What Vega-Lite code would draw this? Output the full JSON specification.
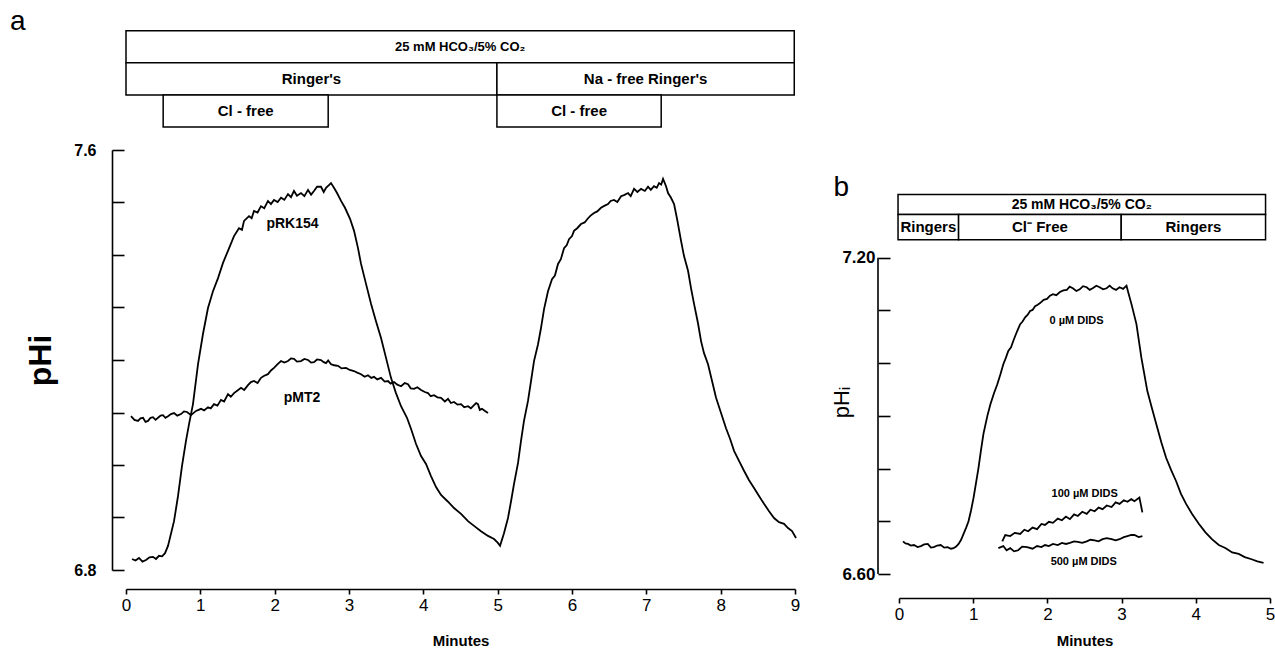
{
  "$schema": "https://vega.github.io/schema/vega-lite/v6.json",
  "background": "white",
  "padding": {"left": 9, "top": 7, "right": 2, "bottom": 2},
  "config": {
    "view": {"stroke": null},
    "font": "Liberation Sans",
    "axis": {"grid": false, "domainColor": "black", "tickColor": "black", "labelColor": "black", "titleColor": "black", "domainWidth": 1.6, "tickWidth": 1.6, "labelFlush": false, "labelOverlap": false, "labelFont": "Liberation Sans", "titleFont": "Liberation Sans"}
  },
  "datasets": {
    "curvesA": [
      {"series":"pRK154","t":0.081,"ph":6.821},{"series":"pRK154","t":0.128,"ph":6.818},{"series":"pRK154","t":0.175,"ph":6.823},{"series":"pRK154","t":0.222,"ph":6.816},{"series":"pRK154","t":0.269,"ph":6.819},{"series":"pRK154","t":0.316,"ph":6.824},{"series":"pRK154","t":0.363,"ph":6.825},{"series":"pRK154","t":0.404,"ph":6.821},{"series":"pRK154","t":0.444,"ph":6.827},{"series":"pRK154","t":0.485,"ph":6.826},{"series":"pRK154","t":0.525,"ph":6.832},{"series":"pRK154","t":0.565,"ph":6.846},{"series":"pRK154","t":0.605,"ph":6.869},{"series":"pRK154","t":0.646,"ph":6.893},{"series":"pRK154","t":0.700,"ph":6.941},{"series":"pRK154","t":0.753,"ph":6.998},{"series":"pRK154","t":0.807,"ph":7.046},{"series":"pRK154","t":0.848,"ph":7.078},{"series":"pRK154","t":0.901,"ph":7.116},{"series":"pRK154","t":0.969,"ph":7.192},{"series":"pRK154","t":1.036,"ph":7.250},{"series":"pRK154","t":1.103,"ph":7.299},{"series":"pRK154","t":1.170,"ph":7.331},{"series":"pRK154","t":1.238,"ph":7.356},{"series":"pRK154","t":1.305,"ph":7.385},{"series":"pRK154","t":1.372,"ph":7.408},{"series":"pRK154","t":1.453,"ph":7.436},{"series":"pRK154","t":1.520,"ph":7.451},{"series":"pRK154","t":1.560,"ph":7.448},{"series":"pRK154","t":1.588,"ph":7.465},{"series":"pRK154","t":1.655,"ph":7.474},{"series":"pRK154","t":1.690,"ph":7.470},{"series":"pRK154","t":1.722,"ph":7.484},{"series":"pRK154","t":1.770,"ph":7.481},{"series":"pRK154","t":1.816,"ph":7.493},{"series":"pRK154","t":1.860,"ph":7.489},{"series":"pRK154","t":1.910,"ph":7.503},{"series":"pRK154","t":1.950,"ph":7.497},{"series":"pRK154","t":1.991,"ph":7.505},{"series":"pRK154","t":2.040,"ph":7.501},{"series":"pRK154","t":2.085,"ph":7.509},{"series":"pRK154","t":2.130,"ph":7.505},{"series":"pRK154","t":2.179,"ph":7.516},{"series":"pRK154","t":2.220,"ph":7.510},{"series":"pRK154","t":2.260,"ph":7.522},{"series":"pRK154","t":2.300,"ph":7.513},{"series":"pRK154","t":2.354,"ph":7.518},{"series":"pRK154","t":2.400,"ph":7.512},{"series":"pRK154","t":2.449,"ph":7.524},{"series":"pRK154","t":2.490,"ph":7.515},{"series":"pRK154","t":2.529,"ph":7.522},{"series":"pRK154","t":2.570,"ph":7.530},{"series":"pRK154","t":2.623,"ph":7.530},{"series":"pRK154","t":2.660,"ph":7.520},{"series":"pRK154","t":2.691,"ph":7.528},{"series":"pRK154","t":2.730,"ph":7.533},{"series":"pRK154","t":2.758,"ph":7.537},{"series":"pRK154","t":2.798,"ph":7.528},{"series":"pRK154","t":2.839,"ph":7.518},{"series":"pRK154","t":2.893,"ph":7.503},{"series":"pRK154","t":2.946,"ph":7.490},{"series":"pRK154","t":3.014,"ph":7.469},{"series":"pRK154","t":3.068,"ph":7.446},{"series":"pRK154","t":3.121,"ph":7.413},{"series":"pRK154","t":3.162,"ph":7.383},{"series":"pRK154","t":3.229,"ph":7.345},{"series":"pRK154","t":3.296,"ph":7.307},{"series":"pRK154","t":3.363,"ph":7.274},{"series":"pRK154","t":3.431,"ph":7.242},{"series":"pRK154","t":3.498,"ph":7.204},{"series":"pRK154","t":3.565,"ph":7.166},{"series":"pRK154","t":3.632,"ph":7.137},{"series":"pRK154","t":3.700,"ph":7.112},{"series":"pRK154","t":3.780,"ph":7.090},{"series":"pRK154","t":3.834,"ph":7.069},{"series":"pRK154","t":3.902,"ph":7.040},{"series":"pRK154","t":3.969,"ph":7.017},{"series":"pRK154","t":4.036,"ph":7.002},{"series":"pRK154","t":4.103,"ph":6.979},{"series":"pRK154","t":4.171,"ph":6.958},{"series":"pRK154","t":4.238,"ph":6.943},{"series":"pRK154","t":4.332,"ph":6.930},{"series":"pRK154","t":4.413,"ph":6.918},{"series":"pRK154","t":4.507,"ph":6.907},{"series":"pRK154","t":4.601,"ph":6.893},{"series":"pRK154","t":4.682,"ph":6.884},{"series":"pRK154","t":4.776,"ph":6.874},{"series":"pRK154","t":4.870,"ph":6.865},{"series":"pRK154","t":4.951,"ph":6.859},{"series":"pRK154","t":5.000,"ph":6.852},{"series":"pRK154","t":5.032,"ph":6.846},{"series":"pRK154","t":5.085,"ph":6.870},{"series":"pRK154","t":5.139,"ph":6.899},{"series":"pRK154","t":5.180,"ph":6.931},{"series":"pRK154","t":5.220,"ph":6.964},{"series":"pRK154","t":5.274,"ph":7.004},{"series":"pRK154","t":5.314,"ph":7.046},{"series":"pRK154","t":5.354,"ph":7.084},{"series":"pRK154","t":5.408,"ph":7.122},{"series":"pRK154","t":5.449,"ph":7.160},{"series":"pRK154","t":5.489,"ph":7.198},{"series":"pRK154","t":5.543,"ph":7.230},{"series":"pRK154","t":5.583,"ph":7.261},{"series":"pRK154","t":5.624,"ph":7.297},{"series":"pRK154","t":5.677,"ph":7.331},{"series":"pRK154","t":5.731,"ph":7.354},{"series":"pRK154","t":5.770,"ph":7.361},{"series":"pRK154","t":5.812,"ph":7.383},{"series":"pRK154","t":5.850,"ph":7.392},{"series":"pRK154","t":5.893,"ph":7.413},{"series":"pRK154","t":5.930,"ph":7.419},{"series":"pRK154","t":5.960,"ph":7.430},{"series":"pRK154","t":6.000,"ph":7.436},{"series":"pRK154","t":6.027,"ph":7.446},{"series":"pRK154","t":6.070,"ph":7.451},{"series":"pRK154","t":6.121,"ph":7.459},{"series":"pRK154","t":6.170,"ph":7.462},{"series":"pRK154","t":6.216,"ph":7.470},{"series":"pRK154","t":6.250,"ph":7.475},{"series":"pRK154","t":6.296,"ph":7.480},{"series":"pRK154","t":6.340,"ph":7.483},{"series":"pRK154","t":6.390,"ph":7.490},{"series":"pRK154","t":6.440,"ph":7.494},{"series":"pRK154","t":6.485,"ph":7.497},{"series":"pRK154","t":6.520,"ph":7.503},{"series":"pRK154","t":6.565,"ph":7.505},{"series":"pRK154","t":6.610,"ph":7.501},{"series":"pRK154","t":6.660,"ph":7.512},{"series":"pRK154","t":6.700,"ph":7.514},{"series":"pRK154","t":6.754,"ph":7.518},{"series":"pRK154","t":6.790,"ph":7.512},{"series":"pRK154","t":6.835,"ph":7.526},{"series":"pRK154","t":6.880,"ph":7.520},{"series":"pRK154","t":6.929,"ph":7.526},{"series":"pRK154","t":6.980,"ph":7.522},{"series":"pRK154","t":7.023,"ph":7.530},{"series":"pRK154","t":7.060,"ph":7.524},{"series":"pRK154","t":7.103,"ph":7.531},{"series":"pRK154","t":7.140,"ph":7.528},{"series":"pRK154","t":7.171,"ph":7.537},{"series":"pRK154","t":7.200,"ph":7.534},{"series":"pRK154","t":7.225,"ph":7.545},{"series":"pRK154","t":7.265,"ph":7.531},{"series":"pRK154","t":7.292,"ph":7.518},{"series":"pRK154","t":7.332,"ph":7.509},{"series":"pRK154","t":7.373,"ph":7.497},{"series":"pRK154","t":7.413,"ph":7.469},{"series":"pRK154","t":7.467,"ph":7.427},{"series":"pRK154","t":7.507,"ph":7.398},{"series":"pRK154","t":7.561,"ph":7.370},{"series":"pRK154","t":7.601,"ph":7.337},{"series":"pRK154","t":7.642,"ph":7.307},{"series":"pRK154","t":7.695,"ph":7.270},{"series":"pRK154","t":7.736,"ph":7.236},{"series":"pRK154","t":7.776,"ph":7.213},{"series":"pRK154","t":7.830,"ph":7.192},{"series":"pRK154","t":7.884,"ph":7.160},{"series":"pRK154","t":7.938,"ph":7.128},{"series":"pRK154","t":8.005,"ph":7.099},{"series":"pRK154","t":8.072,"ph":7.070},{"series":"pRK154","t":8.126,"ph":7.050},{"series":"pRK154","t":8.180,"ph":7.027},{"series":"pRK154","t":8.247,"ph":7.008},{"series":"pRK154","t":8.314,"ph":6.989},{"series":"pRK154","t":8.382,"ph":6.971},{"series":"pRK154","t":8.449,"ph":6.956},{"series":"pRK154","t":8.516,"ph":6.941},{"series":"pRK154","t":8.583,"ph":6.926},{"series":"pRK154","t":8.651,"ph":6.912},{"series":"pRK154","t":8.718,"ph":6.899},{"series":"pRK154","t":8.785,"ph":6.891},{"series":"pRK154","t":8.853,"ph":6.888},{"series":"pRK154","t":8.906,"ph":6.880},{"series":"pRK154","t":8.960,"ph":6.874},{"series":"pRK154","t":9.014,"ph":6.861},
      {"series":"pMT2","t":0.067,"ph":7.093},{"series":"pMT2","t":0.114,"ph":7.086},{"series":"pMT2","t":0.161,"ph":7.084},{"series":"pMT2","t":0.195,"ph":7.089},{"series":"pMT2","t":0.229,"ph":7.090},{"series":"pMT2","t":0.262,"ph":7.082},{"series":"pMT2","t":0.296,"ph":7.084},{"series":"pMT2","t":0.330,"ph":7.090},{"series":"pMT2","t":0.363,"ph":7.091},{"series":"pMT2","t":0.397,"ph":7.086},{"series":"pMT2","t":0.431,"ph":7.090},{"series":"pMT2","t":0.465,"ph":7.094},{"series":"pMT2","t":0.498,"ph":7.095},{"series":"pMT2","t":0.531,"ph":7.090},{"series":"pMT2","t":0.565,"ph":7.093},{"series":"pMT2","t":0.605,"ph":7.097},{"series":"pMT2","t":0.646,"ph":7.099},{"series":"pMT2","t":0.690,"ph":7.094},{"series":"pMT2","t":0.740,"ph":7.097},{"series":"pMT2","t":0.780,"ph":7.102},{"series":"pMT2","t":0.821,"ph":7.101},{"series":"pMT2","t":0.874,"ph":7.095},{"series":"pMT2","t":0.942,"ph":7.103},{"series":"pMT2","t":1.009,"ph":7.107},{"series":"pMT2","t":1.050,"ph":7.104},{"series":"pMT2","t":1.103,"ph":7.110},{"series":"pMT2","t":1.140,"ph":7.108},{"series":"pMT2","t":1.184,"ph":7.116},{"series":"pMT2","t":1.230,"ph":7.113},{"series":"pMT2","t":1.278,"ph":7.124},{"series":"pMT2","t":1.320,"ph":7.121},{"series":"pMT2","t":1.372,"ph":7.135},{"series":"pMT2","t":1.410,"ph":7.130},{"series":"pMT2","t":1.453,"ph":7.137},{"series":"pMT2","t":1.500,"ph":7.142},{"series":"pMT2","t":1.547,"ph":7.147},{"series":"pMT2","t":1.590,"ph":7.143},{"series":"pMT2","t":1.641,"ph":7.152},{"series":"pMT2","t":1.680,"ph":7.158},{"series":"pMT2","t":1.722,"ph":7.160},{"series":"pMT2","t":1.770,"ph":7.156},{"series":"pMT2","t":1.816,"ph":7.166},{"series":"pMT2","t":1.860,"ph":7.170},{"series":"pMT2","t":1.910,"ph":7.173},{"series":"pMT2","t":1.950,"ph":7.180},{"series":"pMT2","t":1.991,"ph":7.185},{"series":"pMT2","t":2.040,"ph":7.192},{"series":"pMT2","t":2.085,"ph":7.198},{"series":"pMT2","t":2.130,"ph":7.195},{"series":"pMT2","t":2.179,"ph":7.198},{"series":"pMT2","t":2.220,"ph":7.203},{"series":"pMT2","t":2.260,"ph":7.202},{"series":"pMT2","t":2.300,"ph":7.197},{"series":"pMT2","t":2.354,"ph":7.198},{"series":"pMT2","t":2.400,"ph":7.202},{"series":"pMT2","t":2.449,"ph":7.200},{"series":"pMT2","t":2.490,"ph":7.195},{"series":"pMT2","t":2.529,"ph":7.196},{"series":"pMT2","t":2.570,"ph":7.201},{"series":"pMT2","t":2.623,"ph":7.200},{"series":"pMT2","t":2.660,"ph":7.196},{"series":"pMT2","t":2.691,"ph":7.194},{"series":"pMT2","t":2.720,"ph":7.199},{"series":"pMT2","t":2.758,"ph":7.192},{"series":"pMT2","t":2.800,"ph":7.190},{"series":"pMT2","t":2.852,"ph":7.189},{"series":"pMT2","t":2.900,"ph":7.184},{"series":"pMT2","t":2.960,"ph":7.185},{"series":"pMT2","t":3.010,"ph":7.181},{"series":"pMT2","t":3.067,"ph":7.179},{"series":"pMT2","t":3.110,"ph":7.176},{"series":"pMT2","t":3.162,"ph":7.173},{"series":"pMT2","t":3.210,"ph":7.168},{"series":"pMT2","t":3.256,"ph":7.171},{"series":"pMT2","t":3.300,"ph":7.166},{"series":"pMT2","t":3.336,"ph":7.168},{"series":"pMT2","t":3.380,"ph":7.163},{"series":"pMT2","t":3.431,"ph":7.166},{"series":"pMT2","t":3.480,"ph":7.159},{"series":"pMT2","t":3.525,"ph":7.160},{"series":"pMT2","t":3.560,"ph":7.155},{"series":"pMT2","t":3.606,"ph":7.158},{"series":"pMT2","t":3.650,"ph":7.153},{"series":"pMT2","t":3.700,"ph":7.150},{"series":"pMT2","t":3.750,"ph":7.156},{"series":"pMT2","t":3.794,"ph":7.154},{"series":"pMT2","t":3.830,"ph":7.146},{"series":"pMT2","t":3.875,"ph":7.145},{"series":"pMT2","t":3.920,"ph":7.148},{"series":"pMT2","t":3.969,"ph":7.143},{"series":"pMT2","t":4.020,"ph":7.139},{"series":"pMT2","t":4.063,"ph":7.137},{"series":"pMT2","t":4.100,"ph":7.131},{"series":"pMT2","t":4.144,"ph":7.133},{"series":"pMT2","t":4.190,"ph":7.129},{"series":"pMT2","t":4.238,"ph":7.128},{"series":"pMT2","t":4.290,"ph":7.121},{"series":"pMT2","t":4.332,"ph":7.126},{"series":"pMT2","t":4.370,"ph":7.118},{"series":"pMT2","t":4.413,"ph":7.120},{"series":"pMT2","t":4.460,"ph":7.115},{"series":"pMT2","t":4.507,"ph":7.116},{"series":"pMT2","t":4.550,"ph":7.110},{"series":"pMT2","t":4.601,"ph":7.112},{"series":"pMT2","t":4.640,"ph":7.108},{"series":"pMT2","t":4.682,"ph":7.114},{"series":"pMT2","t":4.710,"ph":7.118},{"series":"pMT2","t":4.735,"ph":7.116},{"series":"pMT2","t":4.760,"ph":7.105},{"series":"pMT2","t":4.789,"ph":7.107},{"series":"pMT2","t":4.830,"ph":7.103},{"series":"pMT2","t":4.870,"ph":7.099}
    ],
    "curvesB": [
      {"series":"0","t":0.054,"ph":6.662},{"series":"0","t":0.087,"ph":6.658},{"series":"0","t":0.120,"ph":6.657},{"series":"0","t":0.160,"ph":6.654},{"series":"0","t":0.201,"ph":6.655},{"series":"0","t":0.250,"ph":6.651},{"series":"0","t":0.295,"ph":6.653},{"series":"0","t":0.340,"ph":6.656},{"series":"0","t":0.388,"ph":6.657},{"series":"0","t":0.430,"ph":6.650},{"series":"0","t":0.469,"ph":6.651},{"series":"0","t":0.515,"ph":6.654},{"series":"0","t":0.562,"ph":6.655},{"series":"0","t":0.610,"ph":6.650},{"series":"0","t":0.656,"ph":6.651},{"series":"0","t":0.700,"ph":6.648},{"series":"0","t":0.736,"ph":6.649},{"series":"0","t":0.770,"ph":6.652},{"series":"0","t":0.803,"ph":6.657},{"series":"0","t":0.837,"ph":6.665},{"series":"0","t":0.870,"ph":6.676},{"series":"0","t":0.905,"ph":6.688},{"series":"0","t":0.937,"ph":6.700},{"series":"0","t":0.970,"ph":6.720},{"series":"0","t":1.004,"ph":6.744},{"series":"0","t":1.037,"ph":6.772},{"series":"0","t":1.071,"ph":6.801},{"series":"0","t":1.105,"ph":6.835},{"series":"0","t":1.138,"ph":6.866},{"series":"0","t":1.191,"ph":6.900},{"series":"0","t":1.232,"ph":6.922},{"series":"0","t":1.280,"ph":6.943},{"series":"0","t":1.325,"ph":6.960},{"series":"0","t":1.365,"ph":6.978},{"series":"0","t":1.406,"ph":6.998},{"series":"0","t":1.440,"ph":7.010},{"series":"0","t":1.473,"ph":7.023},{"series":"0","t":1.510,"ph":7.030},{"series":"0","t":1.540,"ph":7.042},{"series":"0","t":1.590,"ph":7.060},{"series":"0","t":1.633,"ph":7.074},{"series":"0","t":1.665,"ph":7.079},{"series":"0","t":1.700,"ph":7.087},{"series":"0","t":1.735,"ph":7.092},{"series":"0","t":1.767,"ph":7.099},{"series":"0","t":1.800,"ph":7.101},{"series":"0","t":1.834,"ph":7.108},{"series":"0","t":1.870,"ph":7.111},{"series":"0","t":1.901,"ph":7.114},{"series":"0","t":1.950,"ph":7.120},{"series":"0","t":1.995,"ph":7.122},{"series":"0","t":2.035,"ph":7.128},{"series":"0","t":2.075,"ph":7.131},{"series":"0","t":2.120,"ph":7.129},{"series":"0","t":2.169,"ph":7.135},{"series":"0","t":2.215,"ph":7.138},{"series":"0","t":2.262,"ph":7.139},{"series":"0","t":2.300,"ph":7.145},{"series":"0","t":2.343,"ph":7.142},{"series":"0","t":2.390,"ph":7.137},{"series":"0","t":2.436,"ph":7.140},{"series":"0","t":2.480,"ph":7.146},{"series":"0","t":2.530,"ph":7.144},{"series":"0","t":2.570,"ph":7.139},{"series":"0","t":2.610,"ph":7.142},{"series":"0","t":2.660,"ph":7.147},{"series":"0","t":2.704,"ph":7.144},{"series":"0","t":2.750,"ph":7.140},{"series":"0","t":2.798,"ph":7.142},{"series":"0","t":2.840,"ph":7.147},{"series":"0","t":2.878,"ph":7.142},{"series":"0","t":2.925,"ph":7.139},{"series":"0","t":2.972,"ph":7.144},{"series":"0","t":3.020,"ph":7.141},{"series":"0","t":3.066,"ph":7.147},{"series":"0","t":3.092,"ph":7.133},{"series":"0","t":3.133,"ph":7.112},{"series":"0","t":3.200,"ph":7.074},{"series":"0","t":3.267,"ph":7.010},{"series":"0","t":3.347,"ph":6.947},{"series":"0","t":3.408,"ph":6.915},{"series":"0","t":3.468,"ph":6.884},{"series":"0","t":3.535,"ph":6.850},{"series":"0","t":3.601,"ph":6.820},{"series":"0","t":3.668,"ph":6.797},{"series":"0","t":3.735,"ph":6.776},{"series":"0","t":3.800,"ph":6.752},{"series":"0","t":3.869,"ph":6.733},{"series":"0","t":3.950,"ph":6.714},{"series":"0","t":4.043,"ph":6.695},{"series":"0","t":4.130,"ph":6.679},{"series":"0","t":4.217,"ph":6.666},{"series":"0","t":4.310,"ph":6.655},{"series":"0","t":4.404,"ph":6.649},{"series":"0","t":4.490,"ph":6.641},{"series":"0","t":4.578,"ph":6.638},{"series":"0","t":4.660,"ph":6.632},{"series":"0","t":4.752,"ph":6.628},{"series":"0","t":4.830,"ph":6.624},{"series":"0","t":4.913,"ph":6.621},
      {"series":"100","t":1.392,"ph":6.662},{"series":"100","t":1.432,"ph":6.674},{"series":"100","t":1.499,"ph":6.672},{"series":"100","t":1.560,"ph":6.678},{"series":"100","t":1.633,"ph":6.676},{"series":"100","t":1.690,"ph":6.684},{"series":"100","t":1.740,"ph":6.681},{"series":"100","t":1.800,"ph":6.688},{"series":"100","t":1.861,"ph":6.685},{"series":"100","t":1.920,"ph":6.695},{"series":"100","t":1.968,"ph":6.693},{"series":"100","t":2.020,"ph":6.699},{"series":"100","t":2.075,"ph":6.697},{"series":"100","t":2.140,"ph":6.705},{"series":"100","t":2.195,"ph":6.702},{"series":"100","t":2.250,"ph":6.709},{"series":"100","t":2.303,"ph":6.704},{"series":"100","t":2.360,"ph":6.713},{"series":"100","t":2.410,"ph":6.710},{"series":"100","t":2.470,"ph":6.718},{"series":"100","t":2.530,"ph":6.714},{"series":"100","t":2.580,"ph":6.722},{"series":"100","t":2.637,"ph":6.719},{"series":"100","t":2.690,"ph":6.726},{"series":"100","t":2.744,"ph":6.723},{"series":"100","t":2.800,"ph":6.730},{"series":"100","t":2.865,"ph":6.727},{"series":"100","t":2.920,"ph":6.736},{"series":"100","t":2.972,"ph":6.733},{"series":"100","t":3.030,"ph":6.740},{"series":"100","t":3.079,"ph":6.737},{"series":"100","t":3.130,"ph":6.742},{"series":"100","t":3.173,"ph":6.738},{"series":"100","t":3.240,"ph":6.745},{"series":"100","t":3.280,"ph":6.717},
      {"series":"500","t":1.339,"ph":6.649},{"series":"500","t":1.406,"ph":6.653},{"series":"500","t":1.450,"ph":6.645},{"series":"500","t":1.499,"ph":6.649},{"series":"500","t":1.550,"ph":6.643},{"series":"500","t":1.606,"ph":6.645},{"series":"500","t":1.660,"ph":6.652},{"series":"500","t":1.727,"ph":6.651},{"series":"500","t":1.800,"ph":6.648},{"series":"500","t":1.861,"ph":6.653},{"series":"500","t":1.920,"ph":6.651},{"series":"500","t":1.968,"ph":6.655},{"series":"500","t":2.020,"ph":6.653},{"series":"500","t":2.075,"ph":6.657},{"series":"500","t":2.140,"ph":6.655},{"series":"500","t":2.195,"ph":6.659},{"series":"500","t":2.250,"ph":6.657},{"series":"500","t":2.303,"ph":6.659},{"series":"500","t":2.360,"ph":6.662},{"series":"500","t":2.410,"ph":6.661},{"series":"500","t":2.470,"ph":6.659},{"series":"500","t":2.530,"ph":6.662},{"series":"500","t":2.580,"ph":6.665},{"series":"500","t":2.637,"ph":6.664},{"series":"500","t":2.690,"ph":6.662},{"series":"500","t":2.744,"ph":6.666},{"series":"500","t":2.800,"ph":6.668},{"series":"500","t":2.865,"ph":6.666},{"series":"500","t":2.920,"ph":6.664},{"series":"500","t":2.972,"ph":6.666},{"series":"500","t":3.030,"ph":6.670},{"series":"500","t":3.079,"ph":6.672},{"series":"500","t":3.130,"ph":6.674},{"series":"500","t":3.173,"ph":6.674},{"series":"500","t":3.230,"ph":6.670},{"series":"500","t":3.280,"ph":6.672}
    ],
    "boxesA": [
      {"row":1,"x0":0,"x1":8.99,"top":7.827,"bottom":7.766,"xm":4.495,"ym":7.7965,"label":"25 mM HCO₃/5% CO₂"},
      {"row":2,"x0":0,"x1":4.99,"top":7.766,"bottom":7.705,"xm":2.495,"ym":7.7355,"label":"Ringer's"},
      {"row":2,"x0":4.99,"x1":8.99,"top":7.766,"bottom":7.705,"xm":6.99,"ym":7.7355,"label":"Na - free Ringer's"},
      {"row":3,"x0":0.5,"x1":2.72,"top":7.705,"bottom":7.644,"xm":1.61,"ym":7.6745,"label":"Cl - free"},
      {"row":3,"x0":4.99,"x1":7.2,"top":7.705,"bottom":7.644,"xm":6.095,"ym":7.6745,"label":"Cl - free"}
    ],
    "boxesB": [
      {"row":1,"x0":-0.013,"x1":4.94,"top":7.320,"bottom":7.282,"xm":2.4635,"ym":7.301,"label":"25 mM HCO₃/5% CO₂"},
      {"row":2,"x0":-0.013,"x1":0.803,"top":7.282,"bottom":7.234,"xm":0.395,"ym":7.258,"label":"Ringers"},
      {"row":2,"x0":0.803,"x1":2.995,"top":7.282,"bottom":7.234,"xm":1.899,"ym":7.258,"label":"Cl⁻  Free"},
      {"row":2,"x0":2.995,"x1":4.94,"top":7.282,"bottom":7.234,"xm":3.9675,"ym":7.258,"label":"Ringers"}
    ],
    "labelsA": [
      {"t":2.240,"ph":7.460,"label":"pRK154"},
      {"t":2.368,"ph":7.128,"label":"pMT2"}
    ],
    "labelsB": [
      {"t":2.392,"ph":7.080,"label":"0 µM DIDS"},
      {"t":2.503,"ph":6.752,"label":"100 µM DIDS"},
      {"t":2.490,"ph":6.623,"label":"500 µM DIDS"}
    ],
    "letterA": [{"t":-1.561,"ph":7.8705,"label":"a"}],
    "letterB": [{"t":-0.8835,"ph":7.3588,"label":"b"}],
    "axisB": [{"t":-0.283,"lo":6.6,"hi":7.2}]
  },
  "bounds": "flush",
  "spacing": 104,
  "hconcat": [
    {
      "width": 669,
      "height": 420,
      "layer": [
        {
          "data": {"name": "curvesA"},
          "mark": {"type": "line", "color": "black", "strokeWidth": 1.8},
          "encoding": {
            "x": {"field": "t", "type": "quantitative", "scale": {"domain": [0, 9], "nice": false, "zero": false},
                  "axis": {"values": [0,1,2,3,4,5,6,7,8,9], "format": "d", "offset": 19, "tickSize": 5, "labelPadding": 3, "labelFontSize": 17, "labelFontWeight": "normal", "title": "Minutes", "titleFontSize": 15, "titleFontWeight": "bold", "titlePadding": 20}},
            "y": {"field": "ph", "type": "quantitative", "scale": {"domain": [6.8, 7.6], "nice": false, "zero": false},
                  "axis": {"values": [6.8,6.9,7.0,7.1,7.2,7.3,7.4,7.5,7.6], "offset": 14, "tickSize": -12, "labelPadding": 28, "labelFontSize": 16, "labelFontWeight": "bold", "labelExpr": "abs(datum.value - 7.6) < 0.001 || abs(datum.value - 6.8) < 0.001 ? format(datum.value, '.1f') : ''", "title": "pHi", "titleFontSize": 32, "titleFontWeight": "bold", "titlePadding": 16}},
            "detail": {"field": "series", "type": "nominal"}
          }
        },
        {
          "data": {"name": "boxesA"},
          "mark": {"type": "rect", "fill": "white", "stroke": "black", "strokeWidth": 1.5},
          "encoding": {
            "x": {"field": "x0", "type": "quantitative", "scale": {"domain": [0, 9], "nice": false, "zero": false}},
            "x2": {"field": "x1"},
            "y": {"field": "top", "type": "quantitative", "scale": {"domain": [6.8, 7.6], "nice": false, "zero": false}},
            "y2": {"field": "bottom"}
          }
        },
        {
          "data": {"name": "boxesA"},
          "transform": [{"filter": "datum.row == 1"}],
          "mark": {"type": "text", "font": "Liberation Sans", "fontWeight": "bold", "fontSize": 13, "color": "black", "align": "center", "baseline": "middle"},
          "encoding": {
            "x": {"field": "xm", "type": "quantitative", "scale": {"domain": [0, 9], "nice": false, "zero": false}},
            "y": {"field": "ym", "type": "quantitative", "scale": {"domain": [6.8, 7.6], "nice": false, "zero": false}},
            "text": {"field": "label"}
          }
        },
        {
          "data": {"name": "boxesA"},
          "transform": [{"filter": "datum.row != 1"}],
          "mark": {"type": "text", "font": "Liberation Sans", "fontWeight": "bold", "fontSize": 15, "color": "black", "align": "center", "baseline": "middle"},
          "encoding": {
            "x": {"field": "xm", "type": "quantitative", "scale": {"domain": [0, 9], "nice": false, "zero": false}},
            "y": {"field": "ym", "type": "quantitative", "scale": {"domain": [6.8, 7.6], "nice": false, "zero": false}},
            "text": {"field": "label"}
          }
        },
        {
          "data": {"name": "labelsA"},
          "mark": {"type": "text", "font": "Liberation Sans", "fontWeight": "bold", "fontSize": 14, "color": "black", "align": "center", "baseline": "middle"},
          "encoding": {
            "x": {"field": "t", "type": "quantitative", "scale": {"domain": [0, 9], "nice": false, "zero": false}},
            "y": {"field": "ph", "type": "quantitative", "scale": {"domain": [6.8, 7.6], "nice": false, "zero": false}},
            "text": {"field": "label"}
          }
        },
        {
          "data": {"name": "letterA"},
          "mark": {"type": "text", "font": "Liberation Sans", "fontSize": 28, "color": "black", "align": "left", "baseline": "top"},
          "encoding": {
            "x": {"field": "t", "type": "quantitative", "scale": {"domain": [0, 9], "nice": false, "zero": false}},
            "y": {"field": "ph", "type": "quantitative", "scale": {"domain": [6.8, 7.6], "nice": false, "zero": false}},
            "text": {"field": "label"}
          }
        }
      ]
    },
    {
      "width": 371,
      "height": 424,
      "layer": [
        {
          "data": {"name": "curvesB"},
          "mark": {"type": "line", "color": "black", "strokeWidth": 1.8},
          "encoding": {
            "x": {"field": "t", "type": "quantitative", "scale": {"domain": [0, 5], "nice": false, "zero": false},
                  "axis": {"values": [0,1,2,3,4,5], "format": "d", "offset": 24, "tickSize": 5, "labelPadding": 3, "labelFontSize": 17, "labelFontWeight": "normal", "title": "Minutes", "titleFontSize": 15, "titleFontWeight": "bold", "titlePadding": 11}},
            "y": {"field": "ph", "type": "quantitative", "scale": {"domain": [6.6, 7.4044], "nice": false, "zero": false},
                  "axis": {"values": [6.6,6.7,6.8,6.9,7.0,7.1,7.2], "domain": false, "offset": 21, "tickSize": -12, "labelPadding": 15, "labelFontSize": 17, "labelFontWeight": "bold", "labelExpr": "abs(datum.value - 7.2) < 0.001 || abs(datum.value - 6.6) < 0.001 ? format(datum.value, '.2f') : ''", "title": "pHᵢ", "titleFontSize": 22, "titleFontWeight": "normal", "titleX": -25, "titleY": 252}},
            "detail": {"field": "series", "type": "nominal"}
          }
        },
        {
          "data": {"name": "axisB"},
          "mark": {"type": "rule", "color": "black", "strokeWidth": 1.6},
          "encoding": {
            "x": {"field": "t", "type": "quantitative", "scale": {"domain": [0, 5], "nice": false, "zero": false}},
            "y": {"field": "lo", "type": "quantitative", "scale": {"domain": [6.6, 7.4044], "nice": false, "zero": false}},
            "y2": {"field": "hi"}
          }
        },
        {
          "data": {"name": "boxesB"},
          "mark": {"type": "rect", "fill": "white", "stroke": "black", "strokeWidth": 1.5},
          "encoding": {
            "x": {"field": "x0", "type": "quantitative", "scale": {"domain": [0, 5], "nice": false, "zero": false}},
            "x2": {"field": "x1"},
            "y": {"field": "top", "type": "quantitative", "scale": {"domain": [6.6, 7.4044], "nice": false, "zero": false}},
            "y2": {"field": "bottom"}
          }
        },
        {
          "data": {"name": "boxesB"},
          "transform": [{"filter": "datum.row == 1"}],
          "mark": {"type": "text", "font": "Liberation Sans", "fontWeight": "bold", "fontSize": 14, "color": "black", "align": "center", "baseline": "middle"},
          "encoding": {
            "x": {"field": "xm", "type": "quantitative", "scale": {"domain": [0, 5], "nice": false, "zero": false}},
            "y": {"field": "ym", "type": "quantitative", "scale": {"domain": [6.6, 7.4044], "nice": false, "zero": false}},
            "text": {"field": "label"}
          }
        },
        {
          "data": {"name": "boxesB"},
          "transform": [{"filter": "datum.row != 1"}],
          "mark": {"type": "text", "font": "Liberation Sans", "fontWeight": "bold", "fontSize": 15, "color": "black", "align": "center", "baseline": "middle"},
          "encoding": {
            "x": {"field": "xm", "type": "quantitative", "scale": {"domain": [0, 5], "nice": false, "zero": false}},
            "y": {"field": "ym", "type": "quantitative", "scale": {"domain": [6.6, 7.4044], "nice": false, "zero": false}},
            "text": {"field": "label"}
          }
        },
        {
          "data": {"name": "labelsB"},
          "mark": {"type": "text", "font": "Liberation Sans", "fontWeight": "bold", "fontSize": 11, "color": "black", "align": "center", "baseline": "middle"},
          "encoding": {
            "x": {"field": "t", "type": "quantitative", "scale": {"domain": [0, 5], "nice": false, "zero": false}},
            "y": {"field": "ph", "type": "quantitative", "scale": {"domain": [6.6, 7.4044], "nice": false, "zero": false}},
            "text": {"field": "label"}
          }
        },
        {
          "data": {"name": "letterB"},
          "mark": {"type": "text", "font": "Liberation Sans", "fontSize": 28, "color": "black", "align": "left", "baseline": "top"},
          "encoding": {
            "x": {"field": "t", "type": "quantitative", "scale": {"domain": [0, 5], "nice": false, "zero": false}},
            "y": {"field": "ph", "type": "quantitative", "scale": {"domain": [6.6, 7.4044], "nice": false, "zero": false}},
            "text": {"field": "label"}
          }
        }
      ]
    }
  ]
}
